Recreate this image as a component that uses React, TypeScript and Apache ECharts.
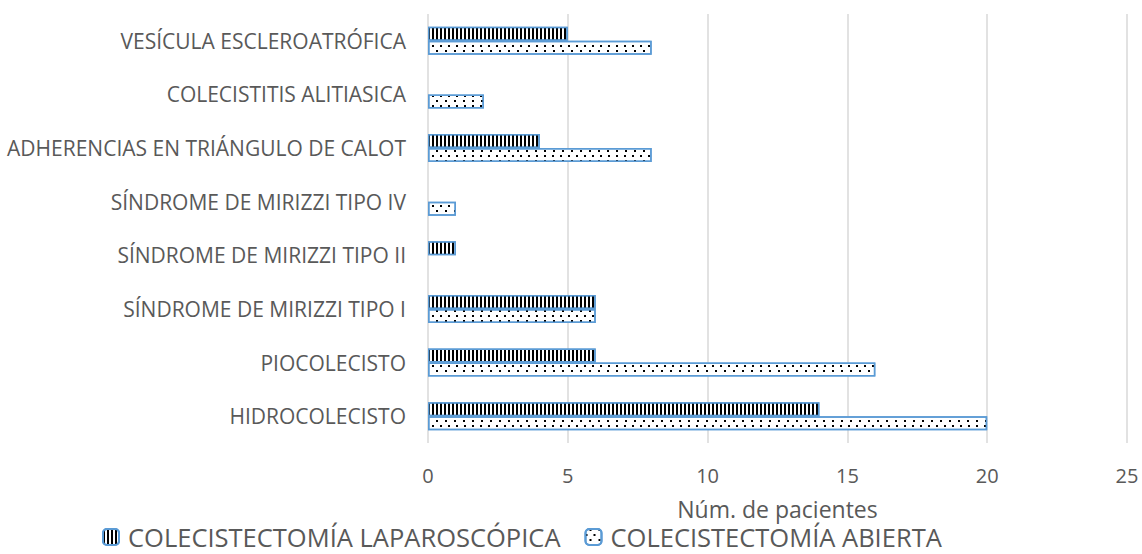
import React, { useEffect, useRef } from "react";
import * as echarts from "echarts";

const categories = [
  "HIDROCOLECISTO",
  "PIOCOLECISTO",
  "SÍNDROME DE MIRIZZI TIPO I",
  "SÍNDROME DE MIRIZZI TIPO II",
  "SÍNDROME DE MIRIZZI TIPO IV",
  "ADHERENCIAS EN TRIÁNGULO DE CALOT",
  "COLECISTITIS ALITIASICA",
  "VESÍCULA ESCLEROATRÓFICA",
];
const laparoscopica = [14, 6, 6, 1, 0, 4, 0, 5];
const abierta = [20, 16, 6, 0, 1, 8, 2, 8];
const seriesNames = ["COLECISTECTOMÍA LAPAROSCÓPICA", "COLECISTECTOMÍA ABIERTA"];
const titleText = "colelitiasis";
const axisName = "Núm. de pacientes";

const FONT = "Open Sans";
const GREY = "#595959";

const noZero = (arr: number[]) => arr.map((v) => (v === 0 ? "-" : v));

export default function App() {
  const ref = useRef<HTMLDivElement>(null);
  useEffect(() => {
    const chart = echarts.init(ref.current!, null, { renderer: "svg" });
    const stripeDecal = {
      symbol: "rect",
      symbolSize: 1,
      color: "#000",
      dashArrayX: [2, 2],
      dashArrayY: [1, 0],
      rotation: 0,
    };
    const dotDecal = {
      symbol: "rect",
      symbolSize: 1,
      color: "#000",
      dashArrayX: [
        [1.5, 6],
        [0, 3.5, 1.5, 2.5],
      ],
      dashArrayY: [1.5, 2.5],
      rotation: 0,
    };
    chart.setOption({
      animation: false,
      backgroundColor: "#fff",
      textStyle: { fontFamily: FONT },
      graphic: [
        {
          type: "text",
          x: 581,
          y: -26,
          style: {
            text: titleText,
            font: `bold 28px ${FONT}`,
            fill: GREY,
            align: "center",
            verticalAlign: "top",
          },
        },
      ],
      legend: {
        bottom: -1,
        left: 97,
        itemWidth: 16,
        itemHeight: 16,
        itemGap: 24,
        textStyle: {
          fontSize: 25.5,
          lineHeight: 20,
          color: GREY,
          fontFamily: FONT,
          padding: [0, 0, 0, 4],
        },
        data: seriesNames,
      },
      grid: { left: 428, right: 15, top: 14, bottom: 111, containLabel: false },
      xAxis: {
        type: "value",
        min: 0,
        max: 25,
        interval: 5,
        name: axisName,
        nameLocation: "middle",
        nameGap: 57,
        nameTextStyle: { fontSize: 23, lineHeight: 18, color: GREY, fontFamily: FONT },
        axisLine: { show: false },
        axisTick: { show: false },
        axisLabel: { fontSize: 20, color: GREY, margin: 22, fontFamily: FONT },
        splitLine: { lineStyle: { color: "#d9d9d9", width: 1.5 } },
      },
      yAxis: {
        type: "category",
        data: categories,
        axisLine: { show: false },
        axisTick: { show: false },
        axisLabel: { fontSize: 21, color: GREY, margin: 22, fontFamily: FONT },
        splitLine: { show: false },
      },
      series: [
        {
          name: seriesNames[0],
          type: "bar",
          data: noZero(laparoscopica),
          barWidth: 14,
          barGap: "0%",
          itemStyle: {
            color: "#fff",
            borderColor: "#5b9bd5",
            borderWidth: 1.5,
            decal: stripeDecal,
          },
        },
        {
          name: seriesNames[1],
          type: "bar",
          data: noZero(abierta),
          barWidth: 14,
          barGap: "0%",
          itemStyle: {
            color: "#fff",
            borderColor: "#5b9bd5",
            borderWidth: 1.5,
            decal: dotDecal,
          },
        },
      ],
    });
    return () => chart.dispose();
  }, []);
  return (
    <div
      ref={ref}
      style={{ position: "absolute", left: 0, top: 0, width: 1142, height: 554 }}
    />
  );
}
